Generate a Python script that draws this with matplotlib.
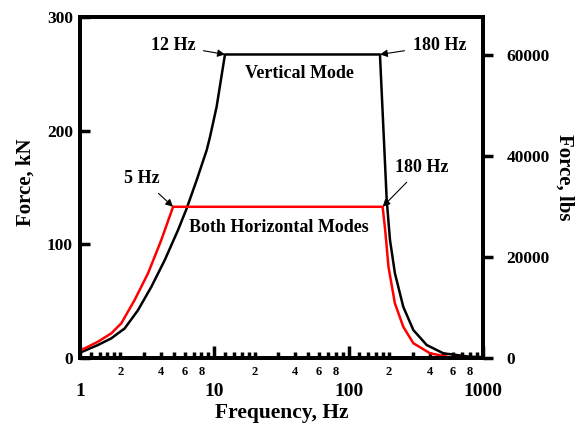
import numpy as np
import matplotlib
matplotlib.use("Agg")
import matplotlib.pyplot as plt
from matplotlib.ticker import FixedLocator, FuncFormatter

plt.rcParams['font.family'] = ['Liberation Serif', 'DejaVu Serif']
plt.rcParams['font.weight'] = 'bold'

# vertical mode force curve (Hz, kN)
vert_freq = [1, 1.36, 1.71, 2.15, 2.7, 3.4, 4.27, 5.37, 6.2, 7.39, 8.78, 9.29, 10.4, 12,
             171, 192, 203, 221, 255, 303, 381, 507, 801, 1000]
vert_force = [4.7, 11.4, 17.3, 26, 42, 62.7, 86, 112.6, 131, 156.5, 183, 194.6, 221, 267,
              267, 139, 104, 74.5, 45, 24.6, 11.4, 4.1, 1.1, 0.8]

# both horizontal modes (Hz, kN)
horiz_freq = [1, 1.36, 1.71, 2.03, 2.55, 3.21, 4.03, 4.93,
              179, 187, 198, 221, 255, 303, 404, 569, 1000]
horiz_force = [6.4, 14.3, 21.7, 30.5, 51, 74.5, 103.8, 133,
               133, 112.6, 80, 48, 27.5, 13, 4.1, 0.6, 0.3]

KN_TO_LBS = 224.809

fig = plt.figure(figsize=(5.81, 4.24), dpi=100)
ax = fig.add_axes([0.1377, 0.1557, 0.6936, 0.8043])

ax.plot(vert_freq, vert_force, color='black', lw=1.8, zorder=3)
ax.plot(horiz_freq, horiz_force, color='red', lw=1.8, zorder=4)

ax.set_xscale('log')
ax.set_xlim(1, 1000)
ax.set_ylim(0, 300)

# x ticks: decades labelled big, 2/4/6/8 labelled small
ax.xaxis.set_major_locator(FixedLocator([1, 10, 100, 1000]))
ax.xaxis.set_major_formatter(FuncFormatter(lambda v, p: '%d' % round(v)))
minor = []
for d in [1, 10, 100]:
    for m in [1.2, 1.4, 1.6, 1.8, 2, 3, 4, 5, 6, 7, 8, 9]:
        minor.append(m * d)
ax.xaxis.set_minor_locator(FixedLocator(minor))

def minor_fmt(v, p):
    lead = round(v / 10 ** np.floor(np.log10(v) + 1e-9), 3)
    if lead in (2, 4, 6, 8):
        return '%d' % lead
    return ''
ax.xaxis.set_minor_formatter(FuncFormatter(minor_fmt))
ax.tick_params(axis='x', which='major', direction='in', length=9, width=2.5,
               labelsize=14, pad=18)
ax.tick_params(axis='x', which='minor', direction='in', length=4, width=2.5,
               labelsize=9, pad=6)

ax.set_yticks([0, 100, 200, 300])
ax.tick_params(axis='y', which='major', direction='in', length=7, width=2.5,
               labelsize=12.5, pad=5)

for s in ax.spines.values():
    s.set_linewidth(2.8)

ax.set_xlabel('Frequency, Hz', fontsize=15.5, fontweight='bold', labelpad=2)
ax.set_ylabel('Force, kN', fontsize=15, fontweight='bold', va='center')
ax.yaxis.set_label_coords(-0.135, 0.516)

# right axis in lbs
ax2 = ax.twinx()
ax2.set_ylim(0, 300 * KN_TO_LBS)
ax2.set_yticks([0, 20000, 40000, 60000])
ax2.tick_params(axis='y', direction='out', length=7, width=2.5, labelsize=12.5, pad=10)
for s in ax2.spines.values():
    s.set_linewidth(2.8)
ax2.set_ylabel('Force, lbs', fontsize=15, fontweight='bold', rotation=-90, va='center')
ax2.yaxis.set_label_coords(1.203, 0.53)

# annotations
arr = dict(arrowstyle='-|>', color='black', lw=0.8, mutation_scale=11,
           shrinkA=4, shrinkB=0)
ax.annotate('12 Hz', xy=(vert_freq[13], vert_force[13]), xytext=(7.2, 275),
            ha='right', va='center', fontsize=13, fontweight='bold', arrowprops=arr)
ax.annotate('180 Hz', xy=(vert_freq[14], vert_force[14]), xytext=(300, 275),
            ha='left', va='center', fontsize=13, fontweight='bold', arrowprops=arr)
ax.annotate('5 Hz', xy=(horiz_freq[7], horiz_force[7]), xytext=(2.9, 158),
            ha='center', va='center', fontsize=13, fontweight='bold', arrowprops=arr)
ax.annotate('180 Hz', xy=(horiz_freq[8], horiz_force[8]), xytext=(221, 168),
            ha='left', va='center', fontsize=13, fontweight='bold', arrowprops=arr)
ax.text(42.7, 250, 'Vertical Mode', ha='center', va='center', fontsize=13,
        fontweight='bold')
ax.text(30, 115, 'Both Horizontal Modes', ha='center', va='center', fontsize=13,
        fontweight='bold')

fig.savefig('out.png', dpi=100)
